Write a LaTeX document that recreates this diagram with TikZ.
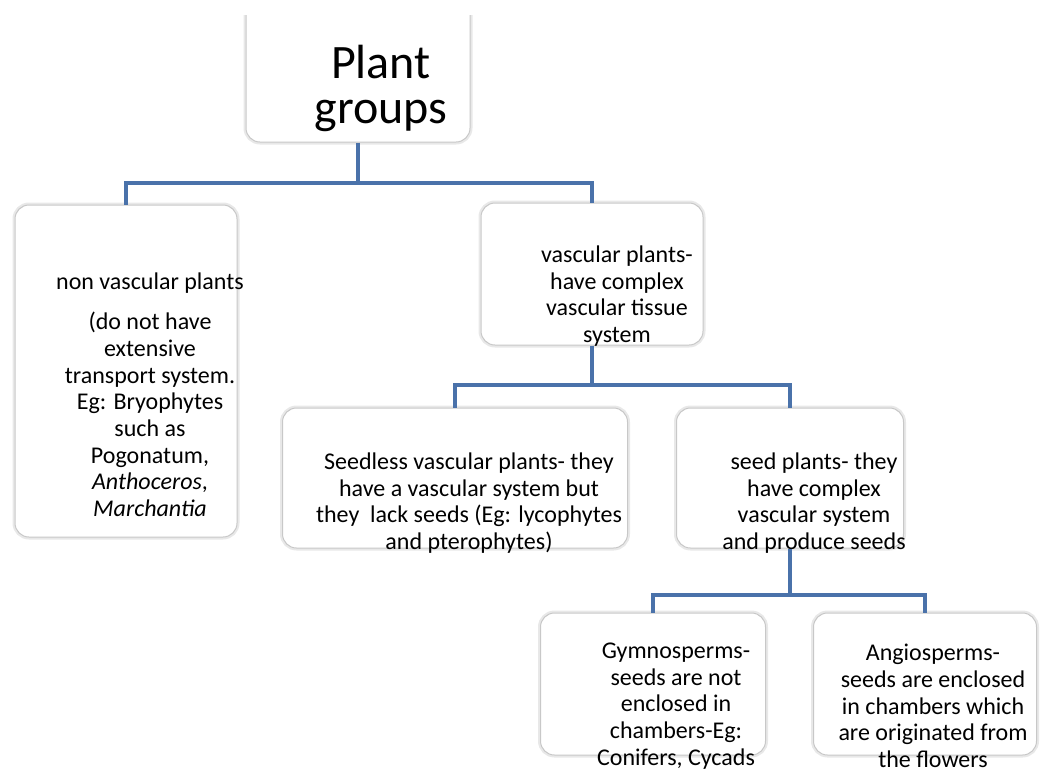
\documentclass[tikz,border=0pt]{standalone}
\usepackage{fontspec}
\setmainfont{Carlito}
\usepackage{xcolor}
\usetikzlibrary{positioning,calc}

\definecolor{linkblue}{RGB}{74,114,170}
\definecolor{boxline}{RGB}{200,200,200}
\definecolor{boxglow}{RGB}{232,232,232}

\tikzset{
  groupbox/.style={rectangle, rounded corners=14pt, fill=white, draw=boxline, line width=1pt,
    preaction={draw=boxglow, line width=5pt}, inner sep=0pt},
  grouptext/.style={align=center, inner sep=0pt, font=\fontsize{24}{26.7}\selectfont},
  link/.style={draw=linkblue, line width=4pt}
}

\begin{document}
\begin{tikzpicture}[x=1pt, y=-1pt]
      \useasboundingbox (0,0) rectangle (1046,772);

      % Top level
      \begin{scope}
        \clip (0,15) rectangle (1046,772);
        \node[groupbox, minimum width=224pt, minimum height=162pt] (root) at (358,61) {};
      \end{scope}
      \node[grouptext, font=\fontsize{48}{45}\selectfont] (roottxt) at (381,88) {Plant\\groups};

      % Second level
      \node[groupbox, minimum width=222pt, minimum height=332pt] (nonvasc) at (126,371) {};
      \node[groupbox, minimum width=222pt, minimum height=142pt] (vasc) at (592,274) {};
      \node[grouptext] (nonvasctxt) at (150,395)
        {non vascular plants\\[13pt] (do not have\\ extensive\\ transport system.\\ Eg: Bryophytes\\ such as\\ Pogonatum,\\ \textit{Anthoceros},\\ \textit{Marchantia}};
      \node[grouptext] (vasctxt) at (617,296)
        {vascular plants-\\ have complex\\ vascular tissue\\ system};

      \coordinate (bus1) at (0,183);
      \draw[link] (root.south) -- (root.south |- bus1) -| (nonvasc.north);
      \draw[link] (root.south |- bus1) -| (vasc.north);

      % Third level
      \node[groupbox, minimum width=345pt, minimum height=140pt] (seedless) at (455,478) {};
      \node[groupbox, minimum width=227pt, minimum height=140pt] (seed) at (790,478) {};
      \node[grouptext] (seedlesstxt) at (469,503)
        {Seedless vascular plants- they\\ have a vascular system but\\ they\ \ lack seeds (Eg: lycophytes\\ and pterophytes)};
      \node[grouptext] (seedtxt) at (814,503)
        {seed plants- they\\ have complex\\ vascular system\\ and produce seeds};

      \coordinate (bus2) at (0,385);
      \draw[link] (vasc.south) -- (vasc.south |- bus2) -| (seedless.north);
      \draw[link] (vasc.south |- bus2) -| (seed.north);

      % Fourth level
      \node[groupbox, minimum width=225pt, minimum height=142pt] (gymno) at (653,684) {};
      \node[groupbox, minimum width=223pt, minimum height=142pt] (angio) at (925,684) {};
      \node[grouptext] (gymnotxt) at (676,706)
        {Gymnosperms-\\ seeds are not\\ enclosed in\\ chambers-Eg:\\ Conifers, Cycads};
      \node[grouptext] (angiotxt) at (933,706)
        {Angiosperms-\\ seeds are enclosed\\ in chambers which\\ are originated from\\ the flowers};

      \coordinate (bus3) at (0,595);
      \draw[link] (seed.south) -- (seed.south |- bus3) -| (gymno.north);
      \draw[link] (seed.south |- bus3) -| (angio.north);
    \end{tikzpicture}
\end{document}
